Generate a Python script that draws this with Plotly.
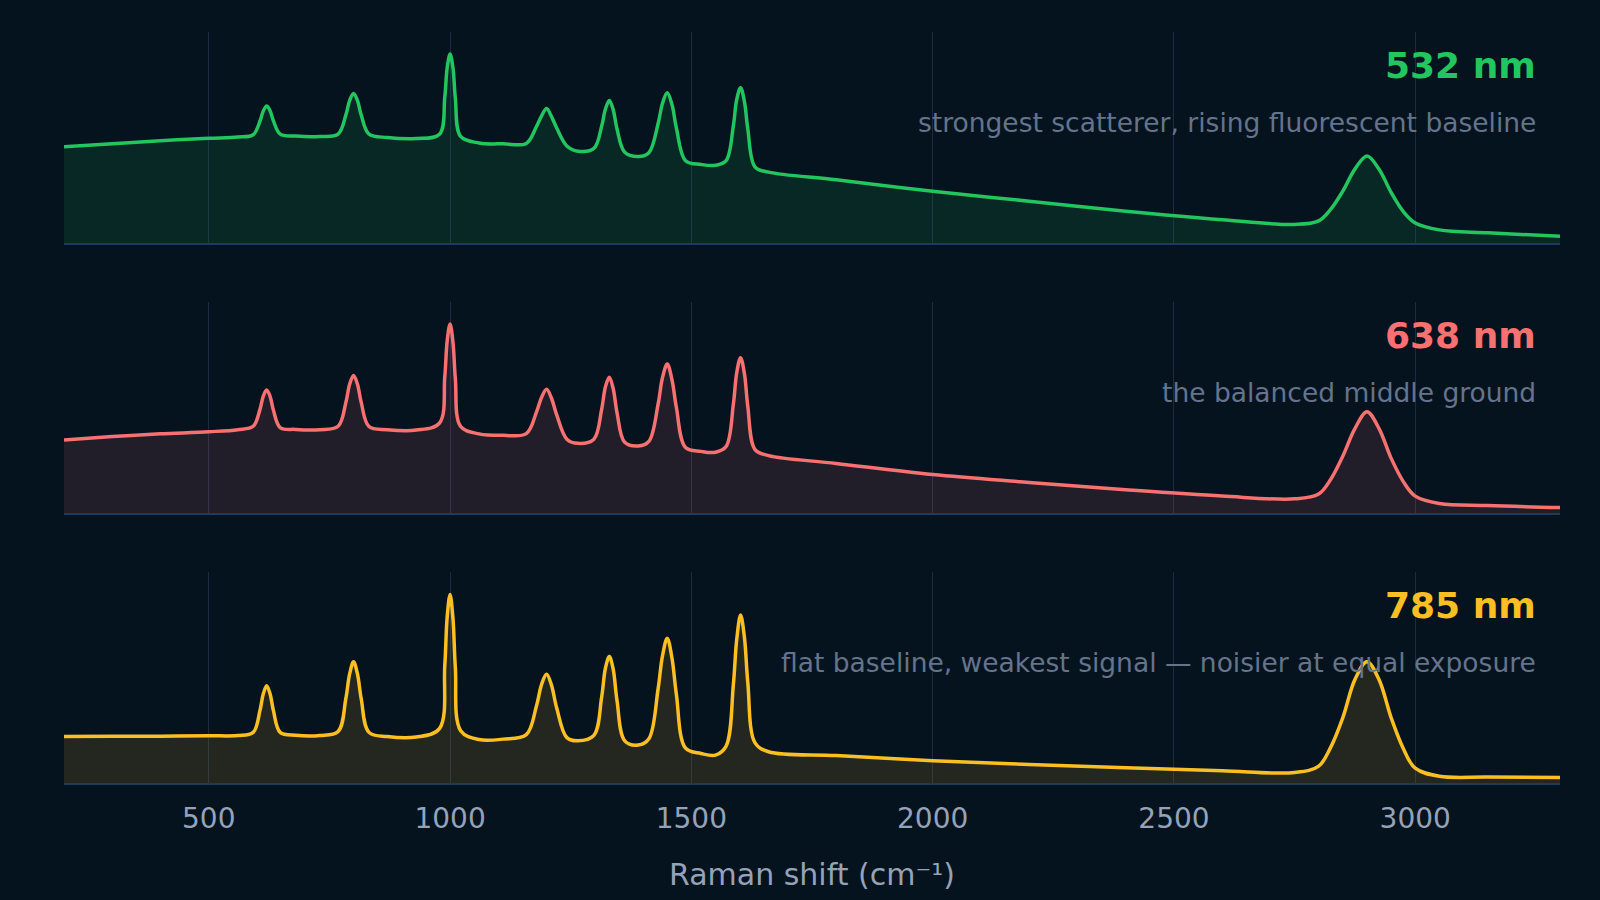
import plotly.graph_objects as go
from plotly.subplots import make_subplots

# Raman shift sample positions (cm^-1), shared by the three spectra
raman_shift = [200, 300, 400, 500, 560,
               592, 606, 613, 620, 627, 634, 648,
               680, 730,
               768, 784, 792, 800, 808, 816, 832,
               870, 930,
               978, 989, 994, 1000, 1006, 1011, 1022,
               1060, 1110,
               1158, 1179, 1190, 1200, 1210, 1221, 1242,
               1265,
               1298, 1314, 1322, 1330, 1338, 1346, 1362,
               1390,
               1412, 1431, 1440, 1450, 1460, 1469, 1488,
               1520, 1550,
               1572, 1587, 1594, 1602, 1610, 1617, 1632,
               1660, 1800, 2000, 2200, 2400, 2600, 2750,
               2800, 2825, 2850, 2875, 2900, 2925, 2950, 2975, 3000,
               3050, 3150, 3300]

# normalised intensity
intensity_532 = [0.456, 0.470, 0.485, 0.496, 0.502,
                 0.513, 0.577, 0.626, 0.649, 0.627, 0.579, 0.516,
                 0.507, 0.505,
                 0.516, 0.606, 0.676, 0.709, 0.676, 0.606, 0.516,
                 0.500, 0.495,
                 0.515, 0.690, 0.830, 0.896, 0.830, 0.684, 0.505,
                 0.474, 0.470,
                 0.472, 0.552, 0.604, 0.637, 0.600, 0.545, 0.460,
                 0.435,
                 0.448, 0.552, 0.635, 0.675, 0.632, 0.540, 0.430,
                 0.410,
                 0.428, 0.565, 0.660, 0.712, 0.655, 0.545, 0.390,
                 0.372, 0.368,
                 0.390, 0.555, 0.680, 0.736, 0.670, 0.540, 0.360,
                 0.336, 0.300, 0.245, 0.198, 0.150, 0.110, 0.088,
                 0.105, 0.160, 0.246, 0.350, 0.412, 0.350, 0.240, 0.150, 0.095,
                 0.062, 0.048, 0.032]

intensity_638 = [0.346, 0.362, 0.375, 0.385, 0.395,
                 0.411, 0.490, 0.554, 0.583, 0.553, 0.487, 0.405,
                 0.396, 0.395,
                 0.411, 0.523, 0.611, 0.652, 0.611, 0.523, 0.410,
                 0.395, 0.393,
                 0.426, 0.645, 0.815, 0.896, 0.810, 0.635, 0.410,
                 0.375, 0.368,
                 0.376, 0.478, 0.550, 0.586, 0.545, 0.465, 0.350,
                 0.330,
                 0.350, 0.490, 0.598, 0.643, 0.590, 0.475, 0.335,
                 0.318,
                 0.340, 0.515, 0.640, 0.706, 0.630, 0.500, 0.310,
                 0.292, 0.288,
                 0.315, 0.515, 0.665, 0.736, 0.660, 0.505, 0.300,
                 0.272, 0.235, 0.182, 0.145, 0.110, 0.080, 0.067,
                 0.090, 0.160, 0.270, 0.400, 0.480, 0.400, 0.260, 0.150, 0.080,
                 0.045, 0.035, 0.026]

intensity_785 = [0.220, 0.222, 0.222, 0.224, 0.225,
                 0.240, 0.343, 0.423, 0.461, 0.423, 0.343, 0.240,
                 0.226, 0.225,
                 0.244, 0.400, 0.518, 0.575, 0.518, 0.398, 0.240,
                 0.220, 0.218,
                 0.258, 0.555, 0.786, 0.894, 0.780, 0.545, 0.248,
                 0.206, 0.208,
                 0.229, 0.365, 0.470, 0.515, 0.465, 0.355, 0.215,
                 0.200,
                 0.226, 0.405, 0.545, 0.599, 0.540, 0.390, 0.200,
                 0.180,
                 0.210, 0.445, 0.600, 0.686, 0.590, 0.420, 0.165,
                 0.140, 0.132,
                 0.175, 0.465, 0.680, 0.796, 0.690, 0.475, 0.190,
                 0.148, 0.130, 0.106, 0.088, 0.072, 0.058, 0.050,
                 0.080, 0.170, 0.310, 0.490, 0.575, 0.490, 0.310, 0.165, 0.070,
                 0.032, 0.028, 0.026]

lasers = ["532 nm", "638 nm", "785 nm"]
notes = ["strongest scatterer, rising fluorescent baseline",
         "the balanced middle ground",
         "flat baseline, weakest signal — noisier at equal exposure"]
colors = ["#22c55e", "#f87171", "#fbbf24"]
fills = ["rgba(34,197,94,0.12)", "rgba(248,113,113,0.12)", "rgba(251,191,36,0.12)"]
spectra = [intensity_532, intensity_638, intensity_785]

BG = "#05131f"
FONT = "DejaVu Sans"

fig = make_subplots(rows=3, cols=1, shared_xaxes=True, vertical_spacing=0.0786)

for i, (name, y) in enumerate(zip(lasers, spectra)):
    fig.add_trace(go.Scatter(
        x=raman_shift, y=y,
        mode="lines",
        line=dict(color=colors[i], width=3.5, shape="spline"),
        fill="tozeroy",
        fillcolor=fills[i],
        name=name,
        hoverinfo="skip",
    ), row=i + 1, col=1)

    ax = "" if i == 0 else str(i + 1)
    fig.add_annotation(
        text=name, xref=f"x{ax} domain", yref=f"y{ax} domain",
        x=0.985, y=0.84, xanchor="right", yanchor="middle", showarrow=False,
        font=dict(family=FONT, size=36, color=colors[i], weight=700),
    )
    fig.add_annotation(
        text=notes[i], xref=f"x{ax} domain", yref=f"y{ax} domain",
        x=0.985, y=0.57, xanchor="right", yanchor="middle", showarrow=False,
        font=dict(family=FONT, size=26.5, color="#64748b"),
    )

fig.update_xaxes(
    range=[200, 3300], tickvals=[500, 1000, 1500, 2000, 2500, 3000],
    showgrid=True, gridcolor="#1a2b42", gridwidth=1,
    showline=True, linecolor="#1e3a5f", linewidth=2,
    zeroline=False, ticks="",
    tickfont=dict(family=FONT, size=28, color="#94a3b8"),
    ticklabelstandoff=9,
)
fig.update_xaxes(
    title=dict(text="Raman shift (cm⁻¹)", standoff=30,
               font=dict(family=FONT, size=30, color="#94a3b8")),
    row=3, col=1,
)
fig.update_yaxes(range=[0, 1], showgrid=False, zeroline=False,
                 showticklabels=False, showline=False)

fig.update_layout(
    width=1600, height=900,
    paper_bgcolor=BG, plot_bgcolor=BG,
    showlegend=False,
    margin=dict(l=64, r=40, t=32, b=117),
    font=dict(family=FONT, color="#94a3b8"),
)

# drop the page's default body margin so the figure fills the window
fig.write_html("out.html",
               config={"displayModeBar": False},
               post_script="document.body.style.margin='0';"
                           "document.body.style.background='" + BG + "';")
